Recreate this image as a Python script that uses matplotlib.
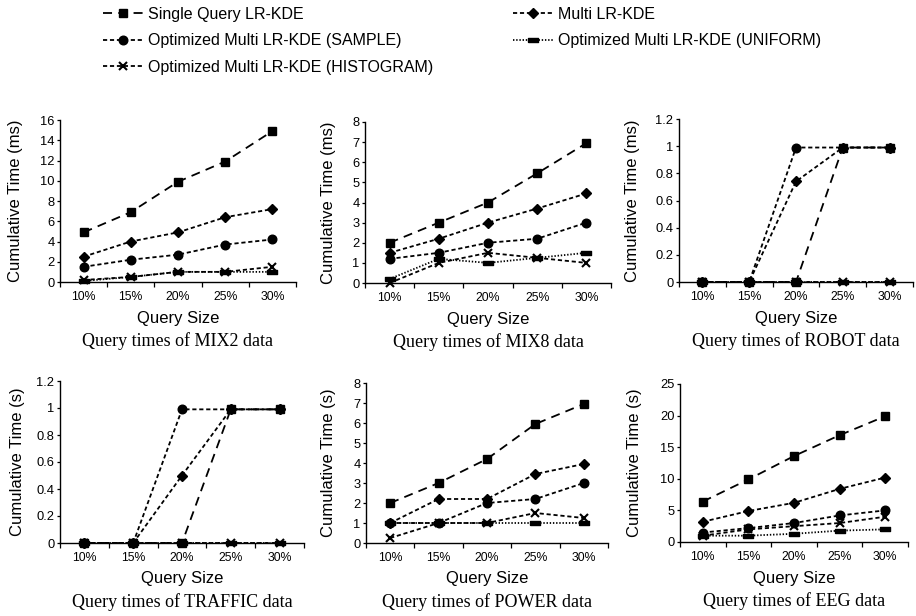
import matplotlib
matplotlib.use("Agg")
import matplotlib.pyplot as plt

plt.rcParams['font.family'] = ['Liberation Sans', 'DejaVu Sans']
plt.rcParams['lines.scale_dashes'] = False

# ---------------- data ----------------
query_sizes = ["10%", "15%", "20%", "25%", "30%"]
series_names = ["Single Query LR-KDE", "Multi LR-KDE",
                "Optimized Multi LR-KDE (SAMPLE)",
                "Optimized Multi LR-KDE (UNIFORM)",
                "Optimized Multi LR-KDE (HISTOGRAM)"]

mix2_single = [4.9, 6.9, 9.9, 11.9, 14.9]
mix2_multi = [2.5, 4.0, 4.9, 6.4, 7.2]
mix2_sample = [1.5, 2.2, 2.7, 3.7, 4.2]
mix2_uniform = [0.1, 0.5, 1.0, 1.0, 1.0]
mix2_hist = [0.2, 0.5, 1.0, 1.0, 1.5]

mix8_single = [2.0, 3.0, 4.0, 5.45, 6.95]
mix8_multi = [1.5, 2.2, 3.0, 3.7, 4.45]
mix8_sample = [1.2, 1.5, 2.0, 2.2, 3.0]
mix8_uniform = [0.2, 1.2, 1.0, 1.25, 1.5]
mix8_hist = [0.0, 1.0, 1.5, 1.25, 1.0]

robot_single = [0.0, 0.0, 0.0, 0.99, 0.99]
robot_multi = [0.0, 0.0, 0.74, 0.99, 0.99]
robot_sample = [0.0, 0.0, 0.99, 0.99, 0.99]
robot_uniform = [0.0, 0.0, 0.0, 0.0, 0.0]
robot_hist = [0.0, 0.0, 0.0, 0.0, 0.0]

traffic_single = [0.0, 0.0, 0.0, 0.99, 0.99]
traffic_multi = [0.0, 0.0, 0.5, 0.99, 0.99]
traffic_sample = [0.0, 0.0, 0.99, 0.99, 0.99]
traffic_uniform = [0.0, 0.0, 0.0, 0.0, 0.0]
traffic_hist = [0.0, 0.0, 0.0, 0.0, 0.0]

power_single = [2.0, 3.0, 4.2, 5.95, 6.95]
power_multi = [1.0, 2.2, 2.2, 3.45, 3.95]
power_sample = [1.0, 1.0, 2.0, 2.2, 3.0]
power_uniform = [1.0, 1.0, 1.0, 1.0, 1.0]
power_hist = [0.25, 1.0, 1.0, 1.5, 1.25]

eeg_single = [6.4, 9.9, 13.6, 16.9, 19.9]
eeg_multi = [3.2, 4.9, 6.2, 8.4, 10.2]
eeg_sample = [1.5, 2.2, 3.0, 4.2, 5.0]
eeg_uniform = [1.0, 1.0, 1.3, 1.8, 2.0]
eeg_hist = [1.0, 2.0, 2.5, 3.0, 4.0]

panels = [
    dict(data=[mix2_single, mix2_multi, mix2_sample, mix2_uniform, mix2_hist],
         yticks=[0, 2, 4, 6, 8, 10, 12, 14, 16], ylabel="Cumulative Time (ms)",
         caption="Query times of MIX2 data",
         box=(60, 296, 120, 282), ylab_x=16),
    dict(data=[mix8_single, mix8_multi, mix8_sample, mix8_uniform, mix8_hist],
         yticks=[0, 1, 2, 3, 4, 5, 6, 7, 8], ylabel="Cumulative Time (ms)",
         caption="Query times of MIX8 data",
         box=(365, 611, 122, 283), ylab_x=328),
    dict(data=[robot_single, robot_multi, robot_sample, robot_uniform, robot_hist],
         yticks=[0, 0.2, 0.4, 0.6, 0.8, 1.0, 1.2], ylabel="Cumulative Time (ms)",
         caption="Query times of ROBOT data",
         box=(679, 913, 119, 282), ylab_x=633),
    dict(data=[traffic_single, traffic_multi, traffic_sample, traffic_uniform, traffic_hist],
         yticks=[0, 0.2, 0.4, 0.6, 0.8, 1.0, 1.2], ylabel="Cumulative Time (s)",
         caption="Query times of TRAFFIC data",
         box=(60, 304, 381, 543), ylab_x=18),
    dict(data=[power_single, power_multi, power_sample, power_uniform, power_hist],
         yticks=[0, 1, 2, 3, 4, 5, 6, 7, 8], ylabel="Cumulative Time (s)",
         caption="Query times of POWER data",
         box=(366, 608, 383, 543), ylab_x=328),
    dict(data=[eeg_single, eeg_multi, eeg_sample, eeg_uniform, eeg_hist],
         yticks=[0, 5, 10, 15, 20, 25], ylabel="Cumulative Time (s)",
         caption="Query times of EEG data",
         box=(680, 908, 384, 542), ylab_x=635),
]

W, H = 916, 616
rect_marker = [(-1, -0.42), (1, -0.42), (1, 0.42), (-1, 0.42), (-1, -0.42)]
styles = [
    dict(ls=(0, (6.5, 4.5)), marker='s', ms=6.2, zorder=6),
    dict(ls=(0, (3.0, 2.0)), marker='D', ms=4.8, zorder=5),
    dict(ls=(0, (3.0, 2.0)), marker='o', ms=6.2, zorder=4),
    dict(ls=(0, (1.0, 1.3)), marker=rect_marker, ms=6.5, zorder=3),
    dict(ls=(0, (3.0, 2.0)), marker='x', ms=6.0, zorder=7, mew=1.5),
]

fig = plt.figure(figsize=(W / 100, H / 100), dpi=100)


def fx(px):
    return px / W


def fy(py):
    return 1 - py / H


xs = list(range(len(query_sizes)))
handles = []
for i, p in enumerate(panels):
    x0, x1, y0, y1 = p['box']
    ax = fig.add_axes([fx(x0), fy(y1), (x1 - x0) / W, (y1 - y0) / H])
    for j, (vals, st) in enumerate(zip(p['data'], styles)):
        ln, = ax.plot(xs, vals, color='black', lw=1.3, linestyle=st['ls'],
                      marker=st['marker'], ms=st['ms'], mec='black', mfc='black',
                      mew=st.get('mew', 1.0), clip_on=False, zorder=st['zorder'],
                      label=series_names[j])
        if i == 0:
            handles.append(ln)
    ax.set_xlim(-0.5, len(query_sizes) - 0.5)
    ax.set_ylim(p['yticks'][0], p['yticks'][-1])
    ax.set_yticks(p['yticks'])
    ax.set_yticklabels(['{:g}'.format(v) for v in p['yticks']])
    ax.set_xticks(xs)
    ax.set_xticklabels(query_sizes)
    ax.set_xticks([k - 0.5 for k in range(len(query_sizes) + 1)], minor=True)
    ax.tick_params(axis='x', which='major', length=0, pad=6.5, labelsize=8.8)
    ax.tick_params(axis='x', which='minor', length=3.5, width=0.9, direction='out')
    ax.tick_params(axis='y', which='major', length=2.5, width=0.9, pad=1.5, labelsize=9.3)
    for s in ['top', 'right']:
        ax.spines[s].set_visible(False)
    for s in ['left', 'bottom']:
        ax.spines[s].set_linewidth(1.0)
    # labels
    fig.text(fx(p['ylab_x']), fy((y0 + y1) / 2), p['ylabel'], rotation=90,
             ha='center', va='center', fontsize=12)
    fig.text(fx((x0 + x1) / 2), fy(y1 + 36), "Query Size", ha='center', va='center',
             fontsize=12)
    fig.text(fx((x0 + x1) / 2), fy(y1 + 59), p['caption'], ha='center', va='center',
             fontsize=13, family=['Liberation Serif', 'DejaVu Serif'])

order = [0, 2, 4, 1, 3]
fig.legend([handles[k] for k in order], [series_names[k] for k in order],
           loc='upper left', bbox_to_anchor=(fx(103), fy(7)), ncol=2,
           frameon=False, fontsize=11.5, handlelength=2.5, handletextpad=0.3,
           columnspacing=5.0, labelspacing=0.72, borderpad=0, borderaxespad=0,
           numpoints=1)

fig.savefig("out.png", dpi=100)
